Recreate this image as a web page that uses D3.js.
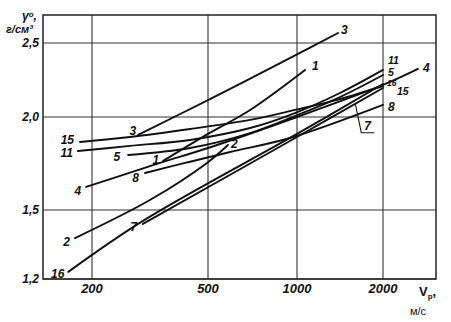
<!DOCTYPE html>
<html><head><meta charset="utf-8">
<script src="https://cdn.jsdelivr.net/npm/d3@7"></script>
<style>
html,body{margin:0;padding:0;background:#fff;}
svg{display:block;}
text{font-family:"Liberation Sans",Arial,sans-serif;fill:#111;}
</style></head>
<body>
<svg id="chart" width="451" height="322"></svg>
<script>
// ---- data (V_p in m/s, density g/cm3) ----
const xTicks = [200, 500, 1000, 2000];
const xTickLabels = ["200", "500", "1000", "2000"];
const yTicks = [1.2, 1.5, 2.0, 2.5];
const yTickLabels = ["1,2", "1,5", "2,0", "2,5"];

const curve1  = [[351,1.746],[500,1.898],[694,2.043],[1067,2.305]];
const curve2  = [[175,1.370],[316,1.547],[496,1.735],[584,1.834]];
const curve3  = [[288,1.892],[500,2.105],[1024,2.426],[1392,2.58]];
const curve4  = [[191,1.611],[342,1.735],[500,1.817],[1000,2.0],[2000,2.203],[2637,2.312]];
const curve5  = [[266,1.778],[434,1.817],[694,1.903],[984,2.006],[1414,2.124],[2000,2.270]];
const curve7  = [[299,1.434],[1000,1.880],[2000,2.183]];
const curve8  = [[304,1.682],[417,1.735],[594,1.795],[947,1.874],[2000,2.074]];
const curve11 = [[179,1.800],[270,1.829],[434,1.863],[694,1.933],[984,2.024],[1414,2.150],[2000,2.305]];
const curve15 = [[182,1.851],[270,1.880],[434,1.927],[694,1.982],[984,2.043],[1414,2.111],[2000,2.196]];
const curve16 = [[166,1.228],[299,1.448],[1000,1.898],[2000,2.209]];
const curveNames = ["1","2","3","4","5","7","8","11","15","16"];
const curveData = [curve1,curve2,curve3,curve4,curve5,curve7,curve8,curve11,curve15,curve16];
const leader7V = 1600;

// ---- label placement (pixel offsets from curve ends) ----
const labelStyle = {
  "1":  {l:[-4,3], r:[7,0]},
  "2":  {l:[-5,8], r:[3,3]},
  "3":  {l:[-2,0], r:[3,1]},
  "4":  {l:[-5,8], r:[5,3]},
  "5":  {l:[-8,6], r:[5,1]},
  "7":  {l:[-6,7], r:null},
  "8":  {l:[-6,9], r:[5,6]},
  "11": {l:[-5,6], r:[5,-6]},
  "15": {l:[-6,2], r:[14,9]},
  "16": {l:[-4,6], r:[4,2]}
};

const svg = d3.select("#chart");
const x = d3.scaleLog().domain([136, 200, 500, 1000, 2000, 3040]).range([43, 92, 208, 297, 383, 436]);
const y = d3.scaleLog().domain([1.2, 1.5, 2.0, 2.5, 2.73]).range([279, 210, 117, 43, 15]);
const [x0, x1] = [x.range()[0], x.range()[x.range().length-1]];
const [yb, yt] = [y.range()[0], y.range()[y.range().length-1]];

// grid
const g = svg.append("g");
g.selectAll(".vg").data(xTicks).join("line")
  .attr("x1", d => x(d)).attr("x2", d => x(d)).attr("y1", yt).attr("y2", yb)
  .attr("stroke", "#333").attr("stroke-width", 1.1);
g.selectAll(".hg").data(yTicks).join("line")
  .attr("y1", d => y(d)).attr("y2", d => y(d)).attr("x1", x0).attr("x2", x1)
  .attr("stroke", "#333").attr("stroke-width", 1.1);
g.append("rect").attr("x", x0).attr("y", yt).attr("width", x1 - x0).attr("height", yb - yt)
  .attr("fill", "none").attr("stroke", "#222").attr("stroke-width", 1.5);

// tick labels
svg.selectAll(".xt").data(xTicks).join("text")
  .attr("x", d => x(d)).attr("y", yb + 14).attr("text-anchor", "middle")
  .attr("font-size", 13).attr("font-style", "italic").attr("font-weight", "bold")
  .text((d, i) => xTickLabels[i]);
svg.selectAll(".yt").data(yTicks).join("text")
  .attr("x", x0 - 4).attr("y", d => y(d) + 4).attr("text-anchor", "end")
  .attr("font-size", 12).attr("font-style", "italic").attr("font-weight", "bold")
  .text((d, i) => yTickLabels[i]);

// axis titles
const yt1 = svg.append("text").attr("x", 22).attr("y", 20).attr("font-size", 12)
  .attr("font-style", "italic").attr("font-weight", "bold");
yt1.append("tspan").text("γ");
yt1.append("tspan").attr("font-size", 8).attr("dy", -3).text("o");
yt1.append("tspan").attr("dy", 3).text(",");
svg.append("text").attr("x", 6).attr("y", 33).attr("font-size", 11)
  .attr("font-style", "italic").attr("font-weight", "bold").text("г/см³");
const xt1 = svg.append("text").attr("x", 419).attr("y", 296).attr("font-size", 13)
  .attr("font-weight", "bold");
xt1.append("tspan").text("V");
xt1.append("tspan").attr("font-size", 8).attr("dy", 3).text("p");
xt1.append("tspan").attr("dy", -3).text(",");
svg.append("text").attr("x", 410).attr("y", 315).attr("font-size", 11)
  .attr("font-family", "DejaVu Sans").text("м/с");

// curves
const line = d3.line().x(d => x(d[0])).y(d => y(d[1])).curve(d3.curveCatmullRom.alpha(0.5));
svg.selectAll(".curve").data(curveData).join("path")
  .attr("d", line).attr("fill", "none").attr("stroke", "#111")
  .attr("stroke-width", 1.9).attr("stroke-linecap", "round");

// curve labels
const lab = svg.append("g").attr("font-size", 12).attr("font-style", "italic").attr("font-weight", "bold");
curveData.forEach((c, i) => {
  const name = curveNames[i], st = labelStyle[name];
  const a = c[0], b = c[c.length - 1];
  lab.append("text").attr("x", x(a[0]) + st.l[0]).attr("y", y(a[1]) + st.l[1])
    .attr("text-anchor", "end").text(name);
  if (st.r) {
    const crowded = ["11","5","16","15"].includes(name);
    lab.append("text").attr("x", x(b[0]) + st.r[0]).attr("y", y(b[1]) + st.r[1])
      .attr("text-anchor", "start").attr("font-size", name === "16" ? 8.5 : (crowded ? 10.5 : 12)).text(name);
  }
});

// leader for curve 7
const c7 = curveData[curveNames.indexOf("7")];
const c7x = x(leader7V);
const c7y = (() => {
  for (let k = 0; k < c7.length - 1; k++) {
    if (leader7V >= c7[k][0] && leader7V <= c7[k+1][0]) {
      const t = (x(leader7V) - x(c7[k][0])) / (x(c7[k+1][0]) - x(c7[k][0]));
      return y(c7[k][1]) + t * (y(c7[k+1][1]) - y(c7[k][1]));
    }
  }
})();
svg.append("path").attr("d", d3.line()([[c7x, c7y], [c7x + 6, c7y + 29], [c7x + 19, c7y + 29]]))
  .attr("fill", "none").attr("stroke", "#111").attr("stroke-width", 1.1);
lab.append("text").attr("x", c7x + 9).attr("y", c7y + 26).text("7");
</script>
</body></html>
